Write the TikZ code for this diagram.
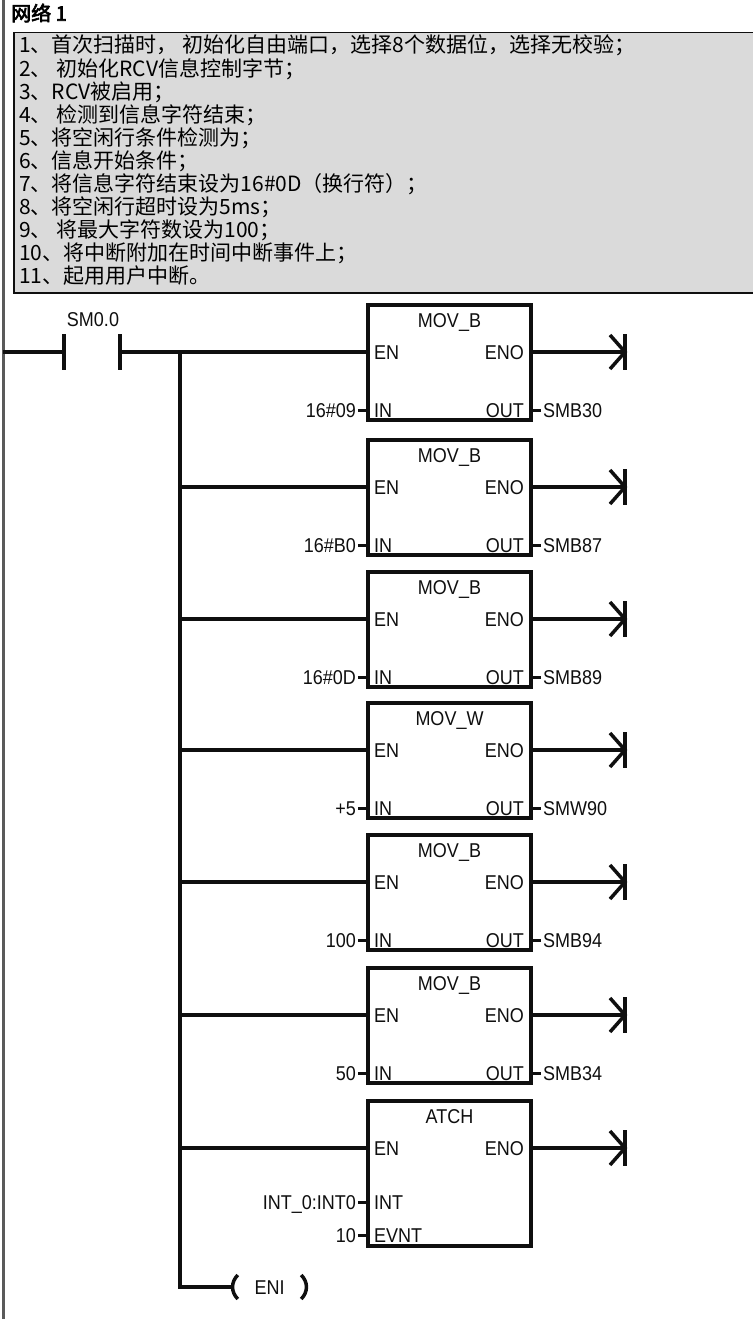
\documentclass[tikz,border=0pt]{standalone}
\usepackage{fontspec}
\setmainfont{Liberation Sans}
\newfontfamily\ladfont[FakeStretch=0.9]{Liberation Sans}
\newfontfamily\cjkfont{Noto Sans CJK SC}
\newfontfamily\cjkboldfont[FakeBold=3]{Noto Sans CJK SC}
\definecolor{notegray}{RGB}{218, 218, 218}
\definecolor{railgray}{RGB}{90, 90, 90}
\definecolor{inkblack}{RGB}{15, 15, 15}
\usetikzlibrary{calc}

\tikzset{
  wire/.style={line width=3.5pt, draw=inkblack},
  stub/.style={line width=3pt, draw=inkblack},
  fblock/.style={draw=inkblack, line width=3.5pt, fill=white, minimum width=163pt, inner sep=0pt},
  lbl/.style={font=\ladfont\fontsize{20}{20}\selectfont, text=inkblack, inner sep=0pt, text height=14pt, text depth=0pt},
  pics/enobar/.style={code={
    \draw[wire] (-15,-17) -- (0,0) -- (-15,17);
    \draw[wire] (0,-18) -- (0,18);
  }}
}

\begin{document}
\begin{tikzpicture}[x=1pt, y=-1pt]
  \useasboundingbox (0,0) rectangle (752,1319);

  % Network title
  \node[anchor=west, inner sep=0pt, font=\cjkboldfont\fontsize{20}{20}\selectfont] (title) at (11,13) {网络 1};

  % Comment box
  \node[draw=inkblack, line width=1.5pt, fill=notegray, anchor=north west, minimum width=760pt, minimum height=260pt, inner sep=0pt] (note) at (13,32) {};
  \node[anchor=north west, align=left, inner sep=0pt, font=\cjkfont\fontsize{21}{23.1}\selectfont] (notetext) at (19,35) {
    1、首次扫描时， 初始化自由端口，选择8个数据位，选择无校验；\\
    2、 初始化RCV信息控制字节；\\
    3、RCV被启用；\\
    4、 检测到信息字符结束；\\
    5、将空闲行条件检测为；\\
    6、信息开始条件；\\
    7、将信息字符结束设为16\#0D（换行符）；\\
    8、将空闲行超时设为5ms；\\
    9、 将最大字符数设为100；\\
    10、将中断附加在时间中断事件上；\\
    11、起用用户中断。
  };

  % Power rail
  \draw[line width=3pt, railgray] (3,0) -- (3,1319);
  \coordinate (rail) at (3,352);

  % Contact SM0.0
  \node[minimum width=56pt, minimum height=35pt, inner sep=0pt] (sm) at (92,352) {};
  \draw[wire] (sm.north west) -- (sm.south west) (sm.north east) -- (sm.south east);
  \node[lbl] (smlbl) at (93,319) {SM0.0};
  \draw[wire] (rail) -- (sm.west);
  \coordinate (bus) at (180,352);
  \draw[wire] (sm.east) -- (bus);

  % Move boxes
  \foreach \k/\ytop/\fname/\ival/\oval in {1/305/MOV\_B/16\#09/SMB30, 2/440/MOV\_B/16\#B0/SMB87, 3/572/MOV\_B/16\#0D/SMB89, 4/703/MOV\_W/+5/SMW90, 5/835/MOV\_B/100/SMB94, 6/968/MOV\_B/50/SMB34} {
    \node[fblock, minimum height=115pt] (mb\k) at (449.5,\ytop+57.5) {};
    \node[lbl] (fn\k) at (449.5,\ytop+15) {\fname};
    \node[lbl, anchor=west] (en\k) at (374,\ytop+47) {EN};
    \node[lbl, anchor=east] (eno\k) at (524,\ytop+47) {ENO};
    \node[lbl, anchor=west] (in\k) at (374,\ytop+105) {IN};
    \node[lbl, anchor=east] (out\k) at (524,\ytop+105) {OUT};
    \node[lbl, anchor=east] (iv\k) at (356,\ytop+105) {\ival};
    \node[lbl, anchor=west] (ov\k) at (543,\ytop+105) {\oval};
    \coordinate (end\k) at (625,\ytop+47);
    \draw[wire] (bus |- en\k) -- (mb\k.west |- en\k);
    \draw[wire] (mb\k.east |- eno\k) -- (end\k);
    \pic at (end\k) {enobar};
    \draw[stub] ([xshift=2pt]iv\k.east) -- (mb\k.west |- in\k);
    \draw[stub] (mb\k.east |- out\k) -- ([xshift=-2pt]ov\k.west);
  }

  % Attach interrupt
  \node[fblock, minimum height=145pt] (atch) at (449.5,1173.5) {};
  \node[lbl] (atchname) at (449.5,1116) {ATCH};
  \node[lbl, anchor=west] (atchen) at (374,1148) {EN};
  \node[lbl, anchor=east] (atcheno) at (524,1148) {ENO};
  \node[lbl, anchor=west] (atchint) at (374,1202) {INT};
  \node[lbl, anchor=west] (atchev) at (374,1235) {EVNT};
  \node[lbl, anchor=east] (atchintv) at (356,1202) {INT\_0:INT0};
  \node[lbl, anchor=east] (atchevv) at (356,1235) {10};
  \coordinate (end7) at (625,1148);
  \draw[wire] (bus |- atchen) -- (atch.west |- atchen);
  \draw[wire] (atch.east |- atcheno) -- (end7);
  \pic at (end7) {enobar};
  \draw[stub] ([xshift=2pt]atchintv.east) -- (atch.west |- atchint);
  \draw[stub] ([xshift=2pt]atchevv.east) -- (atch.west |- atchev);

  % Enable interrupt coil
  \node[lbl, minimum width=75pt] (eni) at (269.5,1287) {ENI};
  \draw[wire] (bus) -- (bus |- eni) -- (eni.west);
  \draw[wire] ($(eni.west)+(6,-12)$) .. controls ($(eni.west)+(-1,-5)$) and ($(eni.west)+(-1,5)$) .. ($(eni.west)+(6,12)$);
  \draw[wire] ($(eni.east)+(-6,-12)$) .. controls ($(eni.east)+(1,-5)$) and ($(eni.east)+(1,5)$) .. ($(eni.east)+(-6,12)$);
\end{tikzpicture}
\end{document}
